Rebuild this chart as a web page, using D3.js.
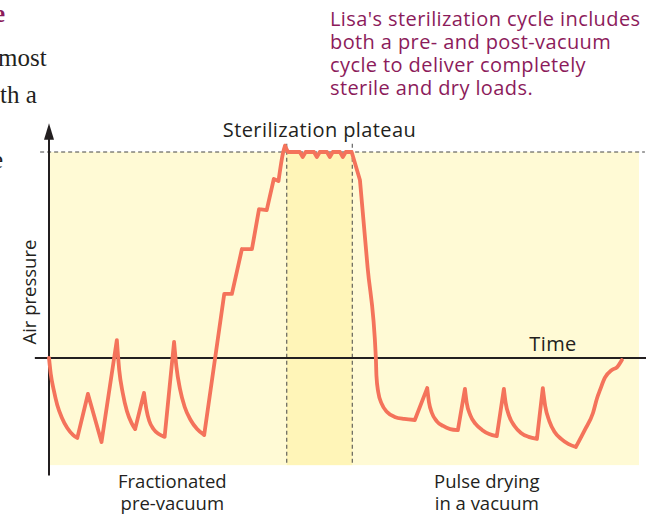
<!DOCTYPE html>
<html>
<head>
<meta charset="utf-8">
<script src="https://cdn.jsdelivr.net/npm/d3@7"></script>
<style>
  body { margin: 0; background: #fff; }
  svg { display: block; }
</style>
</head>
<body>
<svg id="chart" width="646" height="517"></svg>
<script>
// time in arbitrary units (0-100), pressure relative to atmosphere (0), plateau = 100
const timeVals = [
  0, 0.3, 0.8, 1.4, 2.2, 3.1, 4.1, 4.8,
  6.6, 8.9,
  11.5, 11.9, 12.5, 13.2, 14, 14.6,
  16.1, 16.5, 17, 17.7, 18.6, 19.6,
  21.2, 21.6, 22.2, 23, 24, 25.1, 26.3,
  29.7, 31, 32.7, 34.4, 35.6, 36.9, 38.1, 38.9, 39.7, 40, 40.5,
  42.5, 43, 43.5, 44.9, 45.4, 45.9, 47.1, 47.6, 48.1, 49.3, 49.8, 50.3, 51.3,
  52.7, 54, 55.4, 55.5, 55.8, 56.4, 57.3, 58.6, 60.2, 62,
  64.1, 64.4, 64.9, 65.7, 66.8, 68, 69.3,
  70.5, 70.8, 71.4, 72.3, 73.4, 74.6, 75.9,
  77.1, 77.4, 78, 78.9, 80, 81.3, 82.7,
  83.7, 84.1, 84.8, 85.7, 86.8, 88, 89.3,
  90.8, 92.2, 92.9, 93.4, 94.2, 95.4, 96.3, 97.1, 97.6
];
const pressureVals = [
  0, -7.8, -15.5, -22.8, -29.1, -34, -37.4, -38.8,
  -17.5, -40.8,
  8.7, -5.8, -17, -25.7, -31.6, -34.5,
  -17, -24.8, -30.6, -34.5, -36.9, -38.3,
  7.8, -4.4, -15, -23.8, -30.1, -34.5, -37.4,
  31.1, 31.1, 52.9, 52.9, 72.3, 71.8, 86.9, 85.9, 100, 103, 100,
  100, 97.6, 100, 100, 97.6, 100, 100, 97.6, 100, 100, 97.6, 100, 100,
  86.4, 44, 0, -8.7, -16.5, -22.3, -26.2, -28.6, -29.6, -30.1,
  -14.6, -21.4, -26.7, -30.6, -33, -34.5, -35,
  -15, -21.8, -27.7, -32, -34.9, -36.9, -37.9,
  -15, -21.8, -28.2, -33, -36.4, -38.3, -39.3,
  -14.6, -23.3, -30.6, -35.9, -39.3, -41.7, -43.2,
  -35, -26.7, -19.4, -15.5, -9.7, -5.8, -4.4, -1
];

const plateauStart = 40.3;
const plateauEnd = 51.4;
const plateauLevel = 100;

const sideTextLines = [
  "Lisa's sterilization cycle includes",
  "both a pre- and post-vacuum",
  "cycle to deliver completely",
  "sterile and dry loads."
];
const phaseLabels = [
  { lines: ["Fractionated", "pre-vacuum"], t: 20.9 },
  { lines: ["Pulse drying", "in a vacuum"], t: 74.2 }
];

const svg = d3.select("#chart");

const x = d3.scaleLinear().domain([0, 100]).range([49, 639]);
const y = d3.scaleLinear().domain([0, 100]).range([358, 152]);
const yMin = -52;
const font = "'Open Sans', sans-serif";
const curveColor = "#f4735b";

// background panels
svg.append("rect")
  .attr("x", x(0))
  .attr("y", y(plateauLevel))
  .attr("width", x(100) - x(0))
  .attr("height", y(yMin) - y(plateauLevel))
  .attr("fill", "#fffad5");

svg.append("rect")
  .attr("x", x(plateauStart))
  .attr("y", y(plateauLevel))
  .attr("width", x(plateauEnd) - x(plateauStart))
  .attr("height", y(yMin) - y(plateauLevel))
  .attr("fill", "#fff5b8");

// dashed guides
svg.append("line")
  .attr("x1", x(-1.5)).attr("x2", x(101))
  .attr("y1", y(plateauLevel)).attr("y2", y(plateauLevel))
  .attr("stroke", "#444").attr("stroke-width", 1)
  .attr("stroke-dasharray", "4,3");

svg.selectAll(".plateauEdge")
  .data([plateauStart, plateauEnd])
  .enter()
  .append("line")
  .attr("x1", (d) => x(d)).attr("x2", (d) => x(d))
  .attr("y1", y(104)).attr("y2", y(yMin))
  .attr("stroke", "#444").attr("stroke-width", 1)
  .attr("stroke-dasharray", "4,3");

// axes
svg.append("line")
  .attr("x1", x(-2.4)).attr("x2", 646)
  .attr("y1", y(0)).attr("y2", y(0))
  .attr("stroke", "#231f20").attr("stroke-width", 2);

svg.append("line")
  .attr("x1", x(0)).attr("x2", x(0))
  .attr("y1", y(110)).attr("y2", y(-57))
  .attr("stroke", "#231f20").attr("stroke-width", 2);

svg.append("path")
  .attr("d", `M${x(0)},${y(114)} L${x(0) - 5},${y(106)} L${x(0) + 5},${y(106)} Z`)
  .attr("fill", "#231f20");

// pressure curve: split at turning points and sharp bends so each run is
// smoothed but peaks and corners stay sharp
const pts = timeVals.map((t, i) => [t, pressureVals[i]]);
const slope = (a, b) => (b[1] - a[1]) / (b[0] - a[0]);
const runs = [];
let run = [pts[0]];
let dir = 0;
for (let i = 1; i < pts.length; i++) {
  const dy = Math.sign(pts[i][1] - pts[i - 1][1]);
  let bend = false;
  if (i > 1) {
    const s0 = slope(pts[i - 2], pts[i - 1]);
    const s1 = slope(pts[i - 1], pts[i]);
    bend = s0 !== 0 && Math.abs(s1 / s0) > 3;
  }
  if (run.length > 1 && (dy !== dir || bend)) {
    runs.push(run);
    run = [pts[i - 1]];
  }
  dir = dy;
  run.push(pts[i]);
}
runs.push(run);

const line = d3.line()
  .x((d) => x(d[0]))
  .y((d) => y(d[1]))
  .curve(d3.curveMonotoneX);

svg.append("path")
  .attr("d", runs.map((r) => line(r)).join(""))
  .attr("fill", "none")
  .attr("stroke", curveColor)
  .attr("stroke-width", 3.8)
  .attr("stroke-linejoin", "round")
  .attr("stroke-linecap", "round");

// labels
svg.append("text")
  .attr("x", (x(plateauStart) + x(plateauEnd)) / 2)
  .attr("y", 137)
  .attr("text-anchor", "middle")
  .attr("font-family", font)
  .attr("font-size", "20px")
  .attr("letter-spacing", "0.4px")
  .attr("fill", "#231f20")
  .text("Sterilization plateau");

svg.append("text")
  .attr("x", 553)
  .attr("y", 351)
  .attr("text-anchor", "middle")
  .attr("font-family", font)
  .attr("font-size", "20px")
  .attr("letter-spacing", "0.4px")
  .attr("fill", "#231f20")
  .text("Time");

svg.append("text")
  .attr("transform", `translate(36,${y(32)}) rotate(-90)`)
  .attr("text-anchor", "middle")
  .attr("font-family", font)
  .attr("font-size", "18.5px")
  .attr("fill", "#231f20")
  .text("Air pressure");

phaseLabels.forEach((p) => {
  svg.append("text")
    .attr("x", x(p.t))
    .attr("text-anchor", "middle")
    .attr("font-family", font)
    .attr("font-size", "18.5px")
    .attr("fill", "#231f20")
    .selectAll("tspan")
    .data(p.lines)
    .enter()
    .append("tspan")
    .attr("x", x(p.t))
    .attr("y", (d, i) => 488 + i * 22)
    .text((d) => d);
});

svg.append("text")
  .attr("font-family", font)
  .attr("font-size", "20px")
  .attr("letter-spacing", "0.4px")
  .attr("fill", "#8c1b5b")
  .selectAll("tspan")
  .data(sideTextLines)
  .enter()
  .append("tspan")
  .attr("x", 330)
  .attr("y", (d, i) => 26 + i * 23)
  .text((d) => d);

// fragments of the neighbouring column
svg.append("text")
  .attr("x", -6).attr("y", 22)
  .attr("font-family", "'Liberation Serif', serif")
  .attr("font-size", "25px").attr("font-weight", "bold")
  .attr("fill", "#8c1b5b")
  .text("e");

svg.selectAll(".fragment")
  .data([{ t: "most", y: 66, x: -2 }, { t: "th a", y: 103, x: 0 }, { t: "e", y: 168, x: -8 }])
  .enter()
  .append("text")
  .attr("x", (d) => d.x)
  .attr("y", (d) => d.y)
  .attr("font-family", "'Liberation Serif', serif")
  .attr("font-size", "25px")
  .attr("fill", "#231f20")
  .text((d) => d.t);
</script>
</body>
</html>
